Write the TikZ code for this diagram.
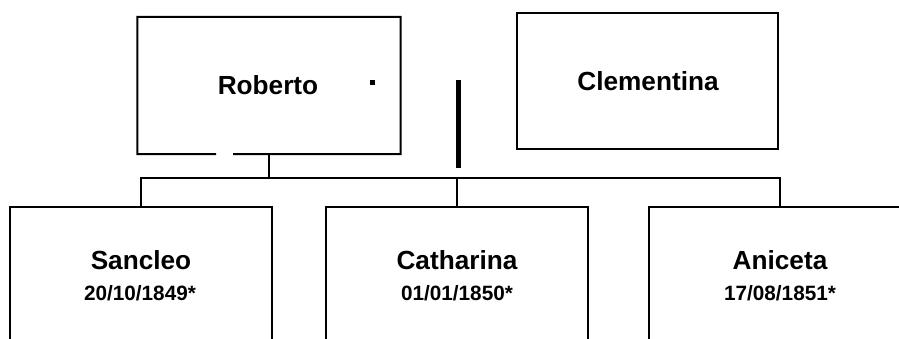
\documentclass[tikz,border=0pt]{standalone}
\usepackage{fontspec}
\setmainfont{Liberation Sans}
\begin{document}
\begin{tikzpicture}[x=1bp,y=-1bp,
  box/.style={rectangle,draw=black,line width=2bp,inner sep=0pt,minimum width=262bp},
  namefont/.style={font=\bfseries\fontsize{26.3}{30}\selectfont,inner sep=0pt,anchor=base},
  datefont/.style={font=\bfseries\fontsize{20.8}{24}\selectfont,inner sep=0pt,anchor=base},
  link/.style={line width=2bp,draw=black}]
\useasboundingbox (0,0) rectangle (899,338);
\clip (0,0) rectangle (899,338);
% parents
\node[rectangle,inner sep=0pt,minimum width=263bp,minimum height=137bp] (rob) at (269,85.5) {};
\draw[link] (216,154) -- (rob.south west) -- (rob.north west) -- (rob.north east) -- (rob.south east) -- (233,154);
\node[namefont] (robt) at (268,94) {Roberto};
\fill[black] (369.5,79.5) rectangle (374.5,84.5);
\node[box,minimum width=261bp,minimum height=136bp] (cle) at (647.5,81) {};
\node[namefont] (clet) at (648,90) {Clementina};
\node[rectangle,fill=black,inner sep=0pt,minimum width=5bp,minimum height=88bp] (mar) at (458,124) {};
% children
\node[box,minimum height=180bp] (san) at (141,297) {};
\node[box,minimum height=180bp] (cat) at (456.5,297) {};
\node[box,minimum height=180bp] (ani) at (780,297) {};
\node[namefont] (sant) at (141,269) {Sancleo};
\node[datefont] (sand) at (140,300) {20/10/1849*};
\node[namefont] (catt) at (457,269) {Catharina};
\node[datefont] (catd) at (457,300) {01/01/1850*};
\node[namefont] (anit) at (780,269) {Aniceta};
\node[datefont] (anid) at (780,300) {17/08/1851*};
% connectors
\coordinate (bar) at (269,178);
\draw[link] (rob.south) -- (rob.south |- bar);
\draw[link] (san.north) |- (ani.north |- bar) -- (ani.north);
\draw[link] (cat.north) -- (cat.north |- bar);
\end{tikzpicture}
\end{document}
